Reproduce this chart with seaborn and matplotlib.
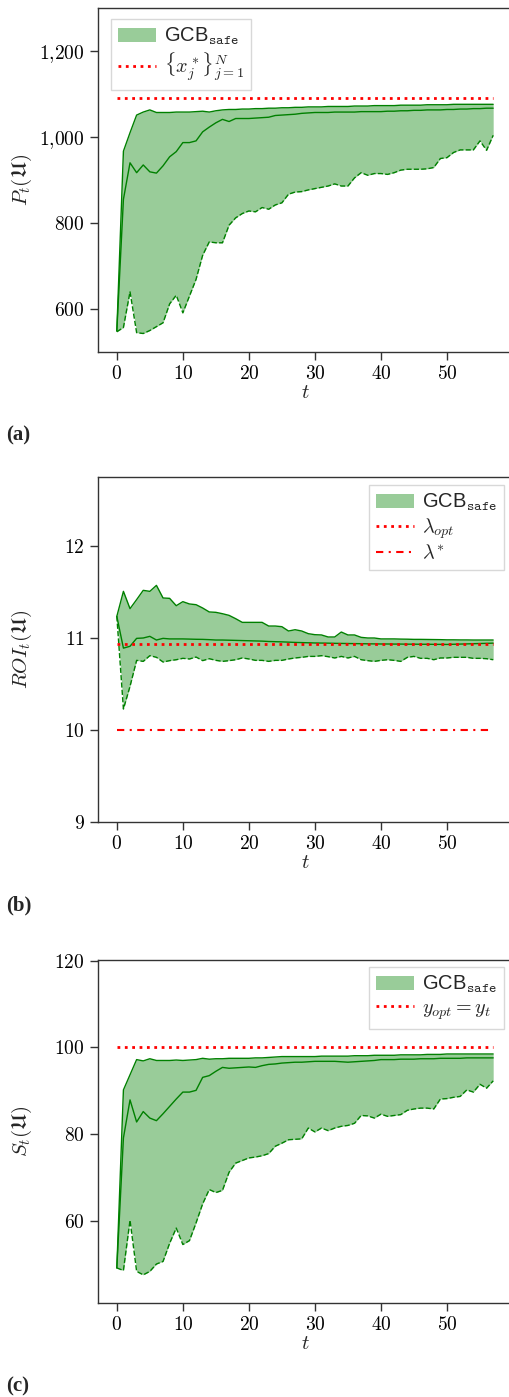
import numpy as np
import pandas as pd
import matplotlib
matplotlib.use("Agg")
import matplotlib.pyplot as plt
import seaborn as sns
from matplotlib.ticker import MultipleLocator, FuncFormatter
from matplotlib.patches import Patch
from matplotlib.lines import Line2D

t = list(range(58))

# Panel (a): P_t
p_upper = [549, 967, 1010, 1051, 1058, 1063, 1057, 1057, 1057, 1058, 1058, 1058, 1059, 1060, 1058,
           1061, 1063, 1064, 1064, 1065, 1065, 1066, 1066, 1067, 1067, 1068, 1068, 1069, 1069, 1070,
           1070, 1070, 1071, 1071, 1071, 1071, 1072, 1072, 1072, 1073, 1073, 1073, 1073, 1074, 1074,
           1074, 1074, 1075, 1075, 1075, 1075, 1076, 1076, 1076, 1076, 1076, 1076, 1076]
p_mean = [549, 855, 940, 917, 935, 919, 916, 933, 954, 966, 987, 987, 991, 1012, 1023,
          1033, 1041, 1036, 1043, 1043, 1043, 1044, 1045, 1046, 1050, 1051, 1052, 1053, 1055, 1056,
          1057, 1057, 1057, 1058, 1058, 1058, 1058, 1059, 1059, 1059, 1059, 1060, 1060, 1061, 1061,
          1062, 1062, 1063, 1063, 1063, 1064, 1064, 1065, 1065, 1066, 1066, 1067, 1067]
p_lower = [547, 557, 640, 545, 543, 550, 559, 568, 612, 632, 591, 630, 669, 725, 756,
           754, 754, 795, 812, 822, 828, 826, 836, 832, 842, 847, 867, 872, 873, 877,
           880, 883, 886, 891, 886, 886, 905, 917, 911, 915, 915, 913, 917, 923, 925,
           925, 925, 926, 929, 950, 952, 964, 970, 970, 970, 991, 969, 1004]
p_opt = 1090

# Panel (b): ROI_t
r_upper = [11.235, 11.507, 11.319, 11.417, 11.518, 11.507, 11.572, 11.435, 11.431, 11.351, 11.395,
           11.37, 11.362, 11.326, 11.283, 11.279, 11.264, 11.246, 11.21, 11.17, 11.17, 11.17, 11.17,
           11.13, 11.13, 11.123, 11.076, 11.09, 11.076, 11.047, 11.036, 11.033, 11.011, 11.011,
           11.065, 11.033, 11.033, 11.007, 11.0, 11.0, 10.99, 10.99, 10.99, 10.988, 10.987, 10.985,
           10.985, 10.984, 10.983, 10.982, 10.98, 10.98, 10.979, 10.979, 10.978, 10.978, 10.978, 10.978]
r_mean = [11.235, 10.89, 10.91, 10.996, 11.0, 11.018, 10.978, 10.996, 10.99, 10.99, 10.99,
          10.988, 10.986, 10.985, 10.982, 10.978, 10.978, 10.976, 10.974, 10.972, 10.97, 10.968,
          10.966, 10.962, 10.96, 10.958, 10.955, 10.952, 10.95, 10.948, 10.946, 10.945, 10.944,
          10.942, 10.941, 10.94, 10.939, 10.938, 10.937, 10.936, 10.935, 10.935, 10.934, 10.934,
          10.933, 10.933, 10.932, 10.932, 10.931, 10.931, 10.93, 10.932, 10.934, 10.936, 10.938,
          10.94, 10.942, 10.944]
r_lower = [11.235, 10.228, 10.475, 10.757, 10.746, 10.808, 10.79, 10.739, 10.754, 10.764, 10.779,
           10.772, 10.793, 10.754, 10.775, 10.757, 10.746, 10.754, 10.764, 10.783, 10.772, 10.757,
           10.757, 10.746, 10.757, 10.757, 10.772, 10.783, 10.79, 10.8, 10.8, 10.808, 10.797,
           10.783, 10.8, 10.783, 10.8, 10.764, 10.754, 10.746, 10.757, 10.764, 10.757, 10.746,
           10.79, 10.8, 10.779, 10.779, 10.764, 10.783, 10.783, 10.79, 10.79, 10.79, 10.779,
           10.779, 10.775, 10.764]
lambda_opt = 10.935
lambda_star = 10.0

# Panel (c): S_t
s_upper = [49.1, 90.2, 93.7, 97.2, 96.9, 97.4, 97.0, 97.0, 97.0, 97.1, 97.0, 97.1, 97.2, 97.5, 97.3,
           97.4, 97.4, 97.5, 97.5, 97.5, 97.5, 97.6, 97.6, 97.7, 97.8, 97.9, 97.9, 97.9, 97.9, 97.9,
           97.9, 98.0, 98.0, 98.0, 98.0, 98.0, 98.1, 98.1, 98.1, 98.2, 98.2, 98.2, 98.2, 98.3, 98.3,
           98.3, 98.3, 98.4, 98.4, 98.4, 98.5, 98.5, 98.5, 98.5, 98.5, 98.5, 98.5, 98.5]
s_mean = [49.1, 79.1, 87.9, 82.8, 85.2, 83.7, 83.1, 84.7, 86.4, 88.1, 89.7, 89.7, 90.1, 93.1, 93.5,
          94.5, 95.4, 95.2, 95.3, 95.4, 95.5, 95.4, 95.8, 96.1, 96.2, 96.4, 96.5, 96.6, 96.6, 96.7,
          96.8, 96.8, 96.8, 96.8, 96.7, 96.6, 96.7, 96.8, 96.9, 97.0, 97.2, 97.2, 97.2, 97.3, 97.3,
          97.3, 97.4, 97.4, 97.4, 97.5, 97.5, 97.5, 97.5, 97.6, 97.6, 97.6, 97.6, 97.6]
s_lower = [49.1, 48.5, 60.1, 48.3, 47.5, 48.3, 50.0, 50.6, 54.8, 58.3, 54.5, 55.4, 59.5, 63.9, 67.2,
           66.5, 67.0, 71.2, 73.3, 73.9, 74.5, 74.7, 75.0, 75.5, 77.2, 77.9, 78.7, 78.8, 78.9, 81.4,
           80.5, 81.4, 80.8, 81.4, 81.8, 82.0, 82.5, 84.3, 84.2, 83.7, 84.6, 84.1, 84.3, 84.5, 85.5,
           85.8, 86.0, 86.0, 85.8, 88.1, 88.2, 88.5, 88.7, 90.2, 89.7, 91.5, 90.6, 92.3]
y_opt = 100

sns.set_style("ticks")
plt.rcParams["font.family"] = ["DejaVu Serif"]
plt.rcParams["mathtext.fontset"] = "cm"
plt.rcParams["axes.edgecolor"] = "#333333"
plt.rcParams["xtick.color"] = "#333333"
plt.rcParams["ytick.color"] = "#333333"
plt.rcParams["xtick.labelcolor"] = "black"
plt.rcParams["ytick.labelcolor"] = "black"

fig = plt.figure(figsize=(5.10, 13.97), dpi=100)
W, H = 510, 1397

def make_ax(top, bottom):
    return fig.add_axes([98 / W, 1 - bottom / H, (512 - 98) / W, (bottom - top) / H])

axes = [make_ax(8, 352), make_ax(477, 822), make_ax(960, 1303)]

fill_col = "#99cc99"
line_col = "green"

def draw(ax, upper, mean, lower):
    df = pd.DataFrame({"t": t, "upper": upper, "mean": mean, "lower": lower})
    ax.fill_between(df["t"], df["lower"], df["upper"], color=fill_col, lw=0)
    sns.lineplot(data=df, x="t", y="upper", ax=ax, color=line_col, lw=1.0)
    sns.lineplot(data=df, x="t", y="mean", ax=ax, color=line_col, lw=1.0)
    sns.lineplot(data=df, x="t", y="lower", ax=ax, color=line_col, lw=1.0, linestyle="--")
    ax.set_xlim(-2.85, 59.85)
    ax.xaxis.set_major_locator(MultipleLocator(10))
    ax.xaxis.set_major_formatter(FuncFormatter(lambda v, p: f"${int(round(v))}$"))
    ax.tick_params(axis="both", which="major", length=6, width=1, labelsize=14, direction="out")
    ax.set_xlabel(r"$t$", fontsize=15, labelpad=0)
    for s in ax.spines.values():
        s.set_linewidth(1.0)

dot_style = dict(color="red", lw=2.0, linestyle=":")
dashdot_style = dict(color="red", lw=1.5, linestyle=(0, (3.5, 2.6, 1, 2.6)))

leg_kw = dict(prop={"family": "Liberation Sans", "size": 14.5}, fancybox=False, framealpha=1,
              edgecolor="#d8d8d8", borderpad=0.35, handlelength=1.9, labelspacing=0.15,
              handletextpad=0.4, borderaxespad=0.0)

gcb_label = r"GCB$_{\mathtt{safe}}$"

# (a)
ax = axes[0]
draw(ax, p_upper, p_mean, p_lower)
ax.plot([t[0], t[-1]], [p_opt, p_opt], **dot_style)
ax.set_ylim(500, 1300)
ax.yaxis.set_major_locator(MultipleLocator(200))
ax.yaxis.set_major_formatter(FuncFormatter(lambda v, p: "$" + f"{int(round(v)):,}".replace(",", "{,}") + "$"))
ax.set_ylabel(r"$P_t(\mathfrak{U})$", fontsize=15)
handles = [Patch(facecolor=fill_col, edgecolor="none"), Line2D([], [], **dot_style)]
ax.legend(handles, [gcb_label, r"$\{x_j^*\}_{j=1}^N$"], loc="upper left",
          bbox_to_anchor=(0.031, 0.968), **leg_kw)

# (b)
ax = axes[1]
draw(ax, r_upper, r_mean, r_lower)
ax.plot([t[0], t[-1]], [lambda_opt, lambda_opt], **dot_style)
ax.plot([t[0], t[-1]], [lambda_star, lambda_star], **dashdot_style)
ax.set_ylim(9, 12.75)
ax.yaxis.set_major_locator(MultipleLocator(1))
ax.yaxis.set_major_formatter(FuncFormatter(lambda v, p: f"${int(round(v))}$"))
ax.set_ylabel(r"$ROI_t(\mathfrak{U})$", fontsize=15)
handles = [Patch(facecolor=fill_col, edgecolor="none"), Line2D([], [], **dot_style),
           Line2D([], [], **dashdot_style)]
ax.legend(handles, [gcb_label, r"$\lambda_{opt}$", r"$\lambda^{*}$"], loc="upper right",
          bbox_to_anchor=(0.981, 0.977), **leg_kw)

# (c)
ax = axes[2]
draw(ax, s_upper, s_mean, s_lower)
ax.plot([t[0], t[-1]], [y_opt, y_opt], **dot_style)
ax.set_ylim(41, 120.2)
ax.yaxis.set_major_locator(MultipleLocator(20))
ax.yaxis.set_major_formatter(FuncFormatter(lambda v, p: f"${int(round(v))}$"))
ax.set_ylabel(r"$S_t(\mathfrak{U})$", fontsize=15)
handles = [Patch(facecolor=fill_col, edgecolor="none"), Line2D([], [], **dot_style)]
ax.legend(handles, [gcb_label, r"$y_{opt} = y_t$"], loc="upper right",
          bbox_to_anchor=(0.981, 0.98), **leg_kw)

for ax in axes:
    ax.yaxis.set_label_coords(-0.155, 0.5)

for lab, yc in [("(a)", 435), ("(b)", 905), ("(c)", 1386)]:
    fig.text(6 / W, 1 - yc / H, lab, fontsize=15, fontweight="bold", family="Liberation Serif",
             ha="left", va="center")

fig.savefig("out.png", dpi=100)
